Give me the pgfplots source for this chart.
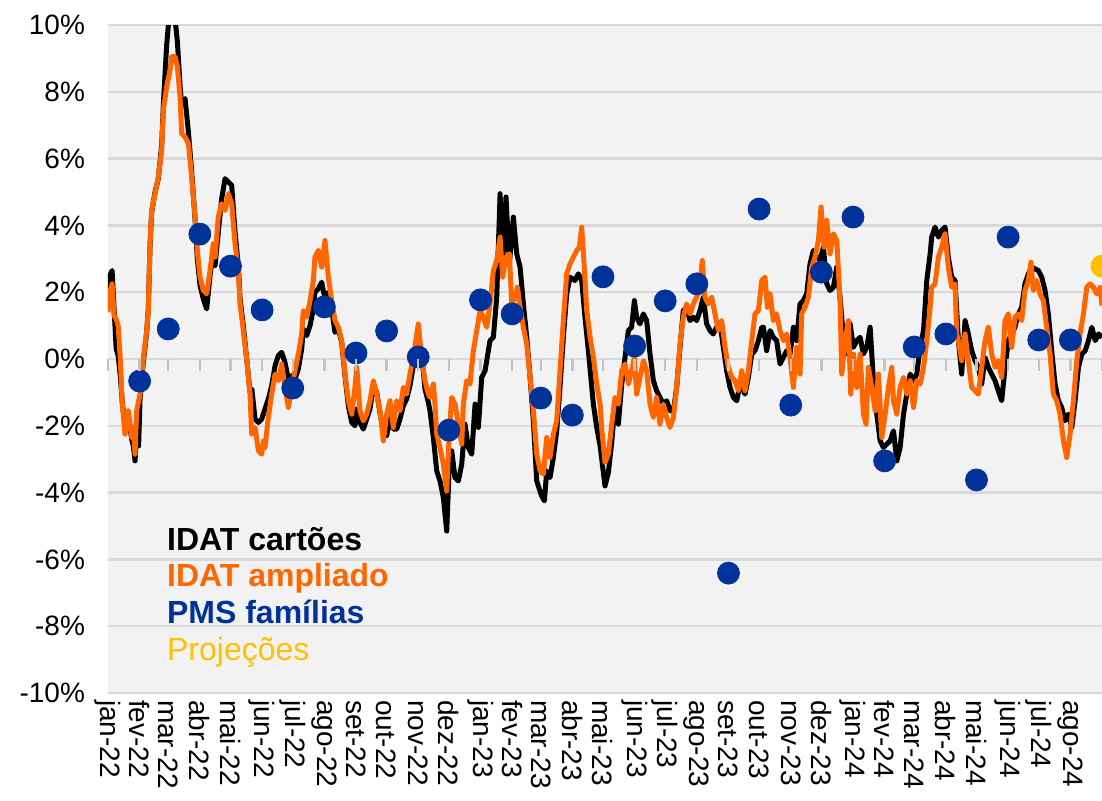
\documentclass[border=0pt]{standalone}
\usepackage{pgfplots}
\pgfplotsset{compat=1.18}
\usepackage{fontspec}
\setmainfont{Liberation Sans}
\definecolor{cOrange}{HTML}{FF6600}
\definecolor{cBlue}{HTML}{003399}
\definecolor{cYellow}{HTML}{FFC000}
\definecolor{cBack}{HTML}{F2F2F2}
\definecolor{cGrid}{HTML}{D9D9D9}
\begin{document}
\begin{tikzpicture}
\begin{axis}[
    name=ax,
    scale only axis,
    width=497pt, height=334pt,
    xmin=0, xmax=974, ymin=-10, ymax=10,
    axis background/.style={fill=cBack},
    axis line style={draw=none},
    ymajorgrids,
    grid style={cGrid, line width=1.2pt},
    ytick={-10,-8,-6,-4,-2,0,2,4,6,8,10},
    yticklabels={-10\%,-8\%,-6\%,-4\%,-2\%,0\%,2\%,4\%,6\%,8\%,10\%},
    xtick={0,31,59,90,120,151,181,212,243,273,304,334,365,396,424,455,485,516,546,577,608,638,669,699,730,761,790,821,851,882,912,943},
    xticklabels={jan-22,fev-22,mar-22,abr-22,mai-22,jun-22,jul-22,ago-22,set-22,out-22,nov-22,dez-22,jan-23,fev-23,mar-23,abr-23,mai-23,jun-23,jul-23,ago-23,set-23,out-23,nov-23,dez-23,jan-24,fev-24,mar-24,abr-24,mai-24,jun-24,jul-24,ago-24},
    tick style={draw=none},
    xticklabel style={rotate=-90, anchor=west, font=\fontsize{14}{16}\selectfont},
    yticklabel style={font=\fontsize{14}{16}\selectfont, xshift=-8pt},
  ]
% IDAT cartoes
\addplot[black, line width=2.5pt, line join=round] coordinates {
(0,1.5) (2,2.5) (4,2.65) (6,1.5) (8,0.3) (10,0.1) (12,-0.5) (14,-1.3) (16.7,-2.0) (19.9,-1.7) (23.2,-2.4) (24.8,-2.6) (26.5,-3.05) (28.1,-2.2) (30,-2.6) (31.4,-1.2) (34.6,-0.1) (37.9,0.8) (39.5,1.5) (41.2,3.4) (42.8,4.4) (46.1,5.0) (49.3,5.4) (52.6,6.4) (54.2,7.6) (57.5,9.4) (60,10.3) (63,10.3) (66,10.1) (68,9.5) (70.6,8.2) (72.2,7.6) (75.5,7.8) (78.8,6.8) (82,5.6) (85.3,4.2) (87.5,3.0) (90.2,2.2) (93.4,1.8) (96.7,1.5) (100,2.5) (103.2,3.2) (104.9,2.8) (108.1,3.8) (111.4,4.8) (114.7,5.4) (117.9,5.3) (121.2,5.2) (124.5,3.8) (127.7,2.8) (129.4,1.8) (132.6,1.0) (135.9,0.0) (139.2,-1.0) (141,-0.9) (144.1,-1.8) (147.4,-1.9) (150.6,-1.8) (153.8,-1.5) (157.1,-1.2) (160.4,-0.8) (163.7,-0.2) (166.9,0.1) (170.2,0.2) (173.4,-0.1) (176.7,-0.6) (180,-0.5) (183.2,-0.6) (186.5,-0.3) (189.8,0.3) (191.4,0.9) (194.7,0.7) (198,1.0) (201.2,1.5) (202.8,2.0) (206.1,2.1) (209.4,2.3) (212.6,1.8) (215.9,2.0) (219.2,1.5) (222.4,0.8) (225.7,0.9) (229,0.5) (232.2,-0.5) (235.5,-1.4) (238.8,-1.9) (242,-2.0) (243.7,-1.5) (246.9,-1.9) (250.2,-2.1) (253.5,-1.8) (256.7,-1.5) (260,-0.8) (263.3,-1.0) (266.5,-1.6) (269.8,-2.2) (273.1,-2.3) (276.3,-1.7) (279.6,-2.1) (282.9,-2.1) (286.1,-1.8) (289.4,-1.4) (292.6,-1.2) (295.9,-0.8) (299.2,-0.2) (304.1,0.6) (307.3,0.2) (310.6,-0.9) (313.9,-1.3) (315.5,-1.55) (318.8,-2.35) (322.1,-3.35) (325.3,-3.65) (328.6,-4.15) (331.9,-5.15) (334.5,-3.15) (336.8,-2.75) (340,-3.55) (343.3,-3.65) (346.6,-3.15) (349.8,-1.95) (353.1,-2.65) (356.4,-2.85) (359.7,-1.35) (362.9,-2.05) (366.2,-0.55) (369.5,-0.35) (374.3,0.55) (377.6,0.65) (380.9,1.85) (384.2,4.95) (386.7,2.85) (390,4.85) (393.3,2.85) (397.2,4.25) (400.5,3.15) (403.8,2.75) (407,1.65) (410.3,0.65) (413.6,-0.55) (416.8,-1.85) (420.1,-3.65) (424.3,-4.05) (427.6,-4.25) (429.9,-3.35) (433.1,-3.55) (436.4,-2.95) (439.7,-2.15) (442.9,-0.85) (446.2,0.65) (449.5,1.95) (452.7,2.45) (457.6,2.35) (460.9,2.55) (464.2,2.35) (467.4,1.25) (470.7,0.25) (475.6,-1.35) (478.9,-2.05) (482.2,-2.6) (485,-3.3) (487,-3.8) (490.3,-3.4) (493.6,-2.5) (496.8,-1.35) (500.1,-1.95) (503.4,-0.75) (506.6,0.05) (509.9,0.85) (513.1,0.95) (515.8,1.75) (518,1.25) (521.3,1.05) (524.6,1.35) (527.8,1.15) (531.1,0.15) (534.4,-0.65) (537.6,-0.95) (540.9,-1.15) (544.2,-1.35) (547.4,-1.25) (550.7,-1.55) (554,-1.55) (557.2,-0.85) (560.5,0.35) (563.7,1.45) (567,1.55) (570.3,1.15) (573.5,1.25) (576.8,1.15) (580.1,1.45) (583.3,1.85) (586.6,1.05) (589.9,0.85) (593.1,0.75) (596.4,0.95) (599.7,1.05) (603,0.35) (606.2,-0.35) (609.5,-0.85) (612.8,-1.15) (616.1,-1.25) (619.3,-0.75) (624.2,-1.05) (627.5,-0.55) (630.8,0.15) (634,0.25) (637.3,0.55) (640.6,0.95) (642.2,0.95) (645.4,0.25) (648.7,0.85) (652,0.65) (655.2,0.55) (658.5,-0.15) (661.8,0.05) (665,0.25) (668.3,0.15) (671.6,0.95) (674.8,0.55) (678.1,1.65) (681.4,1.75) (684.6,1.95) (687.9,2.85) (691.2,3.25) (694.4,3.05) (697.7,2.95) (701,3.35) (704.3,2.25) (707.5,2.05) (710.8,2.15) (714.1,2.75) (717.3,1.85) (720.6,0.65) (723.9,0.15) (727.2,1.05) (730.4,0.35) (733.7,0.55) (737,0.65) (740.2,0.15) (743.5,0.35) (746.8,0.95) (750,-0.65) (753.3,-1.65) (756.6,-2.45) (759.8,-2.65) (763.1,-2.55) (766.4,-2.45) (769.7,-2.15) (772.9,-3.05) (776.2,-2.65) (779.5,-1.65) (782.7,-1.05) (786,-0.45) (789.3,-0.65) (792.5,-0.45) (795.8,0.35) (799.1,0.85) (802.3,2.35) (805.6,3.15) (807.1,3.65) (810.4,3.95) (813.7,3.65) (816.9,3.85) (820.2,3.95) (823.4,3.05) (826.7,2.45) (830,2.35) (833.3,0.55) (836.5,-0.45) (839.8,1.15) (843,0.75) (846.3,0.25) (849.6,-0.05) (852.8,-0.25) (856.1,-0.75) (859.4,0.05) (862.6,-0.25) (865.9,-0.45) (869.2,-0.65) (872.4,-0.95) (875.7,-1.25) (879,-0.25) (882.2,0.55) (885.5,0.75) (888.7,0.95) (892,1.35) (895.3,1.55) (898.5,2.25) (901.8,2.55) (905.1,2.75) (908.3,2.7) (911.6,2.65) (914.9,2.45) (918.2,2.05) (921.4,1.35) (924.7,0.25) (928,-0.75) (931.3,-1.25) (934.5,-1.45) (937.8,-1.85) (941.1,-1.65) (944.4,-2.05) (947.6,-1.25) (950.9,-0.25) (954.2,0.15) (957.5,0.25) (960.7,0.55) (964,0.95) (967.3,0.55) (970.6,0.75) (974,0.65)
};
% IDAT ampliado
\addplot[cOrange, line width=2.5pt, line join=round] coordinates {
(0,1.4) (2,2.0) (4,2.25) (6,1.3) (8,1.2) (10,1.0) (12,0.0) (14,-1.35) (16.7,-2.25) (19.9,-1.55) (23.2,-2.35) (24.8,-2.05) (26.5,-2.85) (28.1,-1.55) (31.4,-1.05) (34.6,0.0) (37.9,0.85) (39.5,1.45) (41.2,3.45) (42.8,4.45) (46.1,4.95) (49.3,5.45) (52.6,6.25) (54.2,7.45) (57.5,8.15) (60.8,8.65) (62.4,9.05) (65.7,9.05) (68,8.75) (70.6,7.85) (72.2,6.75) (75.5,6.65) (78.8,6.45) (82,5.45) (85.3,4.25) (87.5,3.25) (90.2,2.45) (93.4,2.05) (96.7,1.95) (100,2.65) (103.2,3.45) (104.9,3.05) (108.1,4.25) (111.4,4.65) (114.7,4.45) (117.9,4.95) (121.2,4.65) (124.5,3.45) (127.7,2.65) (129.4,1.65) (132.6,0.85) (135.9,0.0) (139.2,-1.05) (140.8,-2.25) (144.1,-2.05) (147.4,-2.75) (150.6,-2.85) (152.3,-2.45) (153.8,-2.65) (157.1,-1.75) (160.4,-1.05) (163.7,-0.45) (166.9,-0.65) (170.2,-0.15) (173.4,-0.85) (176.7,-1.45) (180,-0.85) (183.2,-0.35) (186.5,0.15) (189.8,0.75) (191.4,1.45) (194.7,1.25) (198,1.75) (201.2,2.35) (202.8,3.05) (206.1,3.25) (209.4,2.75) (212.6,3.55) (215.9,2.45) (219.2,1.75) (222.4,1.15) (225.7,0.95) (229,0.55) (232.2,-0.45) (235.5,-1.25) (238.8,-1.65) (242,-0.85) (243.7,-0.25) (246.9,-1.55) (250.2,-1.85) (253.5,-1.65) (256.7,-1.25) (260,-0.65) (263.3,-1.05) (266.5,-1.55) (269.8,-2.45) (273.1,-1.65) (276.3,-1.25) (279.6,-2.05) (282.9,-1.25) (286.1,-1.55) (289.4,-0.85) (292.6,-1.05) (295.9,-0.45) (299.2,0.05) (304.1,1.05) (307.3,0.05) (310.6,-0.65) (313.9,-1.05) (315.5,-1.15) (318.8,-0.75) (320.4,-1.35) (322.1,-2.25) (325.3,-2.65) (328.6,-3.15) (331.9,-3.95) (334.5,-2.15) (336.8,-1.15) (340,-1.35) (343.3,-1.95) (346.6,-2.55) (348.2,-1.35) (351.5,-0.65) (354.7,-0.75) (358,0.25) (361.3,0.85) (364.6,1.45) (367.8,1.25) (371.1,0.95) (374.3,1.65) (377.6,2.65) (380.9,2.95) (384.2,3.65) (386.7,2.45) (390,3.05) (393.3,3.15) (395.6,1.65) (398.8,1.85) (401.2,2.15) (403.8,1.55) (407,0.95) (410.3,0.45) (413.6,-0.55) (416.8,-1.55) (420.1,-2.85) (423.4,-3.35) (426.6,-3.45) (429.9,-2.35) (433.1,-2.95) (436.4,-2.25) (439.7,-1.85) (442.9,-0.35) (446.2,1.15) (449.5,2.55) (452.7,2.85) (456,3.05) (459.3,3.25) (461.9,3.35) (464.2,3.95) (466.5,2.85) (469.1,1.45) (472.4,0.65) (475.6,0.05) (478.9,-0.75) (482.2,-1.35) (484,-2.15) (487,-3.1) (490.3,-2.85) (493.6,-1.95) (496.8,-1.15) (500.1,-1.35) (503.4,-0.35) (506.6,-0.15) (509.9,-0.75) (513.1,-0.35) (515.8,0.05) (518,-1.05) (521.3,-0.55) (524.6,-0.05) (527.8,-0.35) (531.1,-1.35) (534.4,-1.75) (537.6,-1.15) (540.9,-1.95) (544.2,-1.35) (547.4,-1.75) (550.7,-2.05) (554,-1.75) (557.2,-0.85) (560.5,0.45) (563.7,1.25) (567,1.65) (570.3,1.35) (573.5,1.65) (576.8,1.85) (580.1,2.15) (582.3,2.95) (585,1.85) (588.2,1.65) (591.5,1.85) (594.8,1.35) (598.1,0.85) (601.3,1.15) (604.6,0.35) (607.9,-0.25) (611.2,-0.55) (614.4,-0.65) (617.7,-0.95) (621,-0.35) (624.2,-0.95) (627.5,-0.35) (630.8,0.55) (634,1.35) (637.3,1.45) (640.6,2.35) (643.8,2.45) (646.1,1.55) (648.7,1.95) (652,1.15) (655.2,1.35) (658.5,0.85) (661.8,0.55) (665,0.75) (668.3,0.05) (671.6,-0.85) (674.8,0.35) (678.1,-0.45) (679.7,1.35) (683,1.55) (686.3,1.85) (689.5,2.75) (692.8,3.05) (696.1,3.55) (698.7,4.55) (701.6,3.35) (704.3,4.15) (707.5,3.15) (710.8,3.75) (714.1,3.55) (717.3,1.75) (719,-0.45) (722.2,0.55) (725.5,1.15) (727.8,-1.05) (730.4,0.15) (733.7,-0.85) (737,0.15) (740.2,-1.65) (742.8,-1.95) (745.1,-0.25) (748.4,-0.85) (751.7,-1.55) (754.9,-0.45) (758.2,-2.35) (761.5,-1.65) (764.7,-0.85) (768,-0.25) (769.7,-1.25) (772.9,-1.65) (776.2,-0.85) (779.5,-0.55) (782.7,-1.05) (786,-0.65) (789.3,-1.45) (792.5,-0.65) (795.8,-0.75) (799.1,-0.25) (802.3,0.55) (805.6,1.55) (807.1,2.15) (810.4,2.25) (813.7,3.05) (816.9,3.35) (820.2,3.75) (823.4,2.75) (826.7,2.15) (830,2.25) (831.6,0.75) (833.3,0.55) (836.5,-0.05) (839.8,0.75) (843,-0.05) (846.3,-0.85) (849.6,-0.95) (852.8,-1.05) (856.1,-0.25) (859.4,0.55) (862.6,0.95) (865.9,0.15) (869.2,-0.25) (872.4,-0.05) (875.7,-0.55) (879,1.15) (882.2,1.35) (885.5,0.35) (888.7,1.25) (892,1.35) (895.3,1.15) (898.5,2.05) (901.8,2.35) (904.4,2.9) (906.7,2.05) (910,2.35) (913.2,1.95) (916.5,1.75) (919.8,0.95) (923.1,0.15) (926.3,-1.05) (929.6,-1.25) (932.9,-1.65) (936.2,-2.45) (939.4,-2.95) (942.7,-2.25) (946,-1.25) (949.3,-0.05) (952.5,0.75) (955.8,1.35) (959.1,2.15) (962.4,2.25) (965.6,2.15) (968.9,1.95) (972.2,2.15) (974,1.6)
};
% PMS familias
\addplot[only marks, mark=*, mark size=5.5pt, mark options={fill=cBlue, draw=cBlue}] coordinates {
(31,-0.66) (59,0.9) (90,3.74) (120,2.78) (151,1.47) (181,-0.87) (212,1.56) (243,0.18) (273,0.84) (304,0.06) (334,-2.13) (365,1.77) (396,1.35) (424,-1.17) (455,-1.68) (485,2.46) (516,0.39) (546,1.74) (577,2.25) (608,-6.41) (638,4.49) (669,-1.38) (699,2.6) (730,4.25) (761,-3.05) (790,0.36) (821,0.75) (851,-3.62) (882,3.65) (912,0.57) (943,0.57)
};
% Projecoes
\addplot[only marks, mark=*, mark size=5.5pt, mark options={fill=cYellow, draw=cYellow}] coordinates {(974,2.78)};
\node[anchor=base west, font=\bfseries\fontsize{16}{18}\selectfont, text=black] at (axis cs:51,-5.72) {IDAT cartões};
\node[anchor=base west, font=\bfseries\fontsize{16}{18}\selectfont, text=cOrange] at (axis cs:51,-6.82) {IDAT ampliado};
\node[anchor=base west, font=\bfseries\fontsize{16}{18}\selectfont, text=cBlue] at (axis cs:51,-7.92) {PMS famílias};
\node[anchor=base west, font=\fontsize{16}{18}\selectfont, text=cYellow] at (axis cs:51,-9.02) {Projeções};
\end{axis}
% month ticks on the 0% line
\begin{axis}[
    at={(ax.south west)}, anchor=south west,
    scale only axis,
    width=497pt, height=334pt,
    xmin=0, xmax=974, ymin=-10, ymax=10,
    axis x line=middle, axis y line=none,
    x axis line style={draw=none},
    xtick={0,31,59,90,120,151,181,212,243,273,304,334,365,396,424,455,485,516,546,577,608,638,669,699,730,761,790,821,851,882,912,943,974},
    xticklabels={}, ytick=\empty,
    tick align=outside, major tick length=6pt,
    tick style={cGrid!90!black, line width=1.2pt},
  ]
\end{axis}
\pgfresetboundingbox
\path ([shift={(-54pt,-53.5pt)}]ax.south west) rectangle ([shift={(0pt,12.5pt)}]ax.north east);
\end{tikzpicture}
\end{document}
